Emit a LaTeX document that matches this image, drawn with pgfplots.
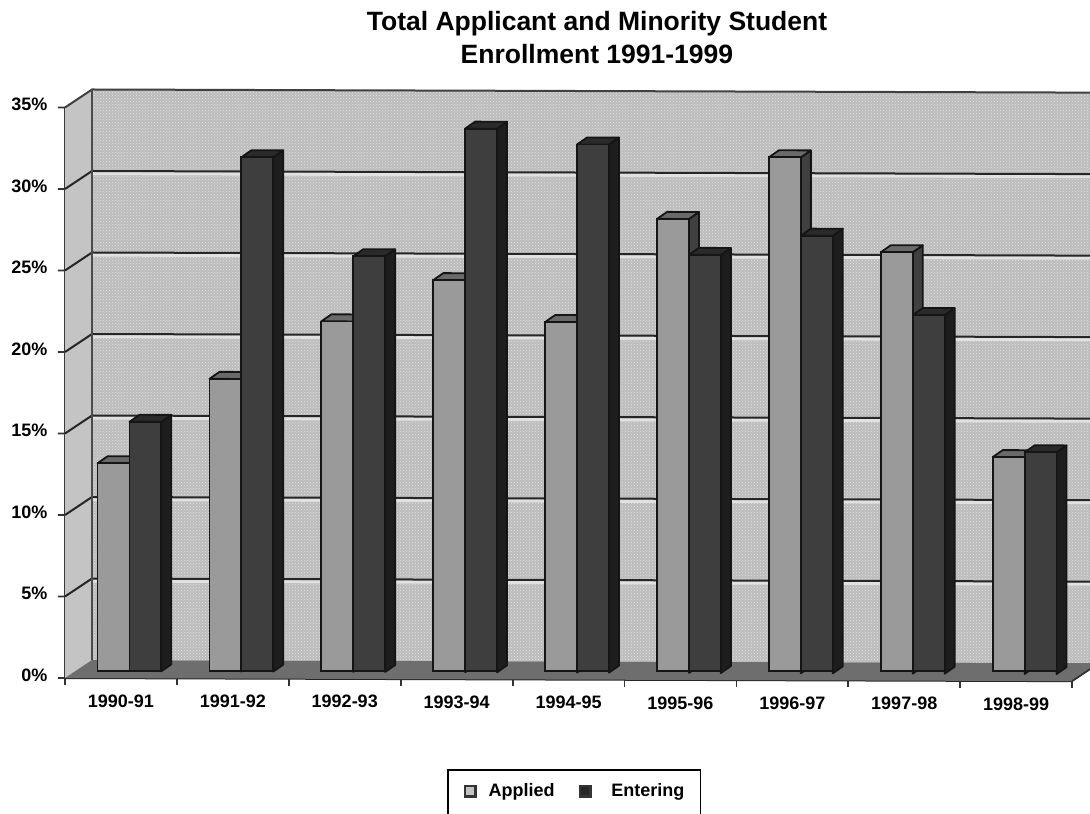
\documentclass[border=0pt]{standalone}
\usepackage{pgfplots}
\usepackage{pgfplotstable}
\usepackage{fontspec}
\usetikzlibrary{patterns}
\setmainfont{Liberation Sans}
\pgfplotsset{compat=1.18}
\definecolor{wallc}{HTML}{BCBCBC}
\definecolor{sidewall}{HTML}{C4C4C4}
\definecolor{floorc}{HTML}{6E6E6E}
\definecolor{appf}{HTML}{9A9A9A}
\definecolor{apps}{HTML}{404040}
\definecolor{appt}{HTML}{6A6A6A}
\definecolor{entf}{HTML}{3E3E3E}
\definecolor{ents}{HTML}{1E1E1E}
\definecolor{entt}{HTML}{2A2A2A}
\definecolor{edge}{HTML}{151515}
\pgfplotstableread{
x applied entering
0.5 12.75 15.3
1.5 17.95 31.55
2.5 21.5 25.5
3.5 24.05 33.35
4.5 21.5 32.4
5.5 27.85 25.65
6.5 31.65 26.85
7.5 25.85 22.0
8.5 13.3 13.6
}\datatable
\newcommand\depthface[5]{%
  \pgfmathsetmacro\xa{#1}\pgfmathsetmacro\xb{#2}%
  \pgfmathsetmacro\xc{#1+0.0894}\pgfmathsetmacro\xd{#2+0.0894}%
  \pgfmathsetmacro\vt{#3+0.43}%
  \edef\temp{\noexpand\addplot[forget plot,draw=edge,line width=1.8pt,line join=round,fill=#4,xshift=8.5pt,yshift=7pt]
    coordinates {(\xb,0) (\xd,0.43) (\xd,\vt) (\xb,#3)} --cycle;
    \noexpand\addplot[forget plot,draw=edge,line width=1.8pt,line join=round,fill=#5,xshift=8.5pt,yshift=7pt]
    coordinates {(\xa,#3) (\xc,\vt) (\xd,\vt) (\xb,#3)} --cycle;}%
  \temp}
\begin{document}
\begin{tikzpicture}[x=1pt,y=1pt]
\useasboundingbox (0,0) rectangle (1090,814);
\clip (0,0) rectangle (1090,814);
\begin{axis}[
  at={(65pt,136pt)},anchor=origin,
  x={(111.9pt,-0.35pt)},y={(0pt,16.3pt)},
  xmin=0,xmax=9,ymin=0,ymax=35,clip=false,
  axis lines=left,
  axis line style={-,draw=black!85,line width=2pt},
  xtick={0.5,1.5,2.5,3.5,4.5,5.5,6.5,7.5,8.5},
  xticklabels={1990-91,1991-92,1992-93,1993-94,1994-95,1995-96,1996-97,1997-98,1998-99},
  minor xtick={0,1,2,3,4,5,6,7,8,9},
  ytick={0,5,10,15,20,25,30,35},
  yticklabel={\pgfmathprintnumber{\tick}\%},
  /pgf/number format/assume math mode=true,
  tick align=outside,
  major tick length=7pt,minor tick length=7pt,
  major x tick style={draw=none},
  minor x tick style={draw=black!80,line width=1.8pt},
  major y tick style={draw=black!80,line width=1.8pt},
  ticklabel style={font=\bfseries\fontsize{18}{20}\selectfont},
  xticklabel style={yshift=-6pt},
  yticklabel style={xshift=-7pt,yshift=3pt},
  title={Total Applicant and Minority Student\\Enrollment 1991-1999},
  title style={at={(axis cs:4.754,39.0)},anchor=center,align=center,
    font=\bfseries\fontsize{26.5}{33}\selectfont},
  legend style={at={(axis cs:3.414,-5.51)},anchor=north west,draw=black,line width=1.8pt,
    inner xsep=14pt,inner ysep=12pt,legend columns=2,
    font=\bfseries\fontsize{18}{20}\selectfont,
    /tikz/column 1/.style={column sep=11pt},
    /tikz/column 2/.style={column sep=20pt},
    /tikz/column 3/.style={column sep=19pt}},
  legend cell align=left,
]
\addlegendimage{only marks,mark=square*,mark size=5.2pt,mark options={fill=appf!60!white,draw=black!80,line width=2.4pt}}
\addlegendentry{Applied}
\addlegendimage{only marks,mark=square*,mark size=5.2pt,mark options={fill=black!85,draw=black!80,line width=2.4pt}}
\addlegendentry{Entering}
\addlegendimage{empty legend}\addlegendentry{\phantom{x}}
\addlegendimage{empty legend}\addlegendentry{\phantom{x}}
% left wall, back wall, floor
\fill[sidewall] (axis cs:0,0) -- ([shift={(27pt,18pt)}]axis cs:0,0) -- ([shift={(27pt,18pt)}]axis cs:0,35) -- (axis cs:0,35) -- cycle;
\fill[wallc] ([shift={(27pt,18pt)}]axis cs:0,0) -- ([shift={(27pt,18pt)}]axis cs:9.2,0) -- ([shift={(27pt,18pt)}]axis cs:9.2,35) -- ([shift={(27pt,18pt)}]axis cs:0,35) -- cycle;
\fill[pattern=crosshatch dots,pattern color=white!55!wallc] ([shift={(27pt,18pt)}]axis cs:0,0) -- ([shift={(27pt,18pt)}]axis cs:9.2,0) -- ([shift={(27pt,18pt)}]axis cs:9.2,35) -- ([shift={(27pt,18pt)}]axis cs:0,35) -- cycle;
\fill[floorc] (axis cs:0,0) -- (axis cs:9,0) -- ([shift={(27pt,18pt)}]axis cs:9,0) -- ([shift={(27pt,18pt)}]axis cs:9.2,0) -- ([shift={(27pt,18pt)}]axis cs:0,0) -- cycle;
\pgfplotsinvokeforeach{5,10,15,20,25,30}{
  \draw[white!55!wallc,line width=3pt] ([shift={(27pt,15.4pt)}]axis cs:0,#1) -- ([shift={(27pt,15.4pt)}]axis cs:9.2,#1);
  \draw[black!85,line width=2pt] (axis cs:0,#1) -- ([shift={(27pt,18pt)}]axis cs:0,#1) -- ([shift={(27pt,18pt)}]axis cs:9.2,#1);
}
\draw[black!75,line width=2pt] (axis cs:0,35) -- ([shift={(27pt,18pt)}]axis cs:0,35) -- ([shift={(27pt,18pt)}]axis cs:9.2,35);
\draw[black!70,line width=2.4pt] ([shift={(27pt,18pt)}]axis cs:0,0) -- ([shift={(27pt,18pt)}]axis cs:0,35);
\draw[black!80,line width=1.8pt] (axis cs:9,0) -- ([shift={(27pt,18pt)}]axis cs:9,0);
% Applied
\pgfplotsforeachungrouped \i in {0,...,8}{
  \pgfplotstablegetelem{\i}{applied}\of\datatable
  \let\vv\pgfplotsretval
  \pgfmathsetmacro\xl{\i+0.215}\pgfmathsetmacro\xr{\i+0.5}
  \depthface{\xl}{\xr}{\vv}{apps}{appt}
}
\addplot[forget plot,ybar,bar width=0.285,bar shift=-0.1425,draw=edge,line width=1.8pt,fill=appf,xshift=8.5pt,yshift=7pt] table[x=x,y=applied]{\datatable};
% Entering
\pgfplotsforeachungrouped \i in {0,...,8}{
  \pgfplotstablegetelem{\i}{entering}\of\datatable
  \let\vv\pgfplotsretval
  \pgfmathsetmacro\xl{\i+0.5}\pgfmathsetmacro\xr{\i+0.785}
  \depthface{\xl}{\xr}{\vv}{ents}{entt}
}
\addplot[forget plot,ybar,bar width=0.285,bar shift=0.1425,draw=edge,line width=1.8pt,fill=entf,xshift=8.5pt,yshift=7pt] table[x=x,y=entering]{\datatable};
\end{axis}
\end{tikzpicture}
\end{document}
